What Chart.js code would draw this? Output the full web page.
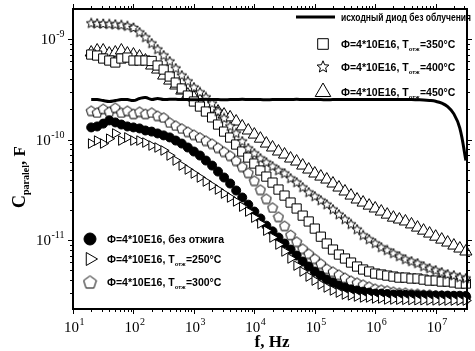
<!DOCTYPE html>
<html>
<head>
<meta charset="utf-8">
<script src="https://cdn.jsdelivr.net/npm/chart.js@4/dist/chart.umd.min.js"></script>
<style>
  html, body { margin: 0; padding: 0; background: #fff; }
</style>
</head>
<body>
<canvas id="chart" width="475" height="351"></canvas>
<script>
// frequency, Hz
const freq = [20, 25.1, 31.6, 39.8, 50.1, 63.1, 79.4,
  100, 126, 158, 200, 251, 316, 398, 501, 631, 794,
  1000, 1260, 1580, 2000, 2510, 3160, 3980, 5010, 6310, 7940,
  1e4, 1.26e4, 1.58e4, 2e4, 2.51e4, 3.16e4, 3.98e4, 5.01e4, 6.31e4, 7.94e4,
  1e5, 1.26e5, 1.58e5, 2e5, 2.51e5, 3.16e5, 3.98e5, 5.01e5, 6.31e5, 7.94e5,
  1e6, 1.26e6, 1.58e6, 2e6, 2.51e6, 3.16e6, 3.98e6, 5.01e6, 6.31e6, 7.94e6,
  1e7, 1.26e7, 1.58e7, 2e7, 2.51e7, 3.16e7];

// capacitance values in pF
const pristine = [250, 250, 244, 239, 244, 250, 250, 244, 256, 262, 250, 256, 250,
  252, 251, 250, 250, 249, 250, 251, 250, 250, 249,
  250, 250, 251, 250, 250, 250, 249, 250, 250, 250,
  250, 251, 250, 250, 250, 250, 249, 250, 250, 250,
  250, 250, 250, 250, 250, 250, 250, 250, 250, 250, 250, 249,
  248, 245, 240, 230, 212, 180, 130, 62];
const noAnneal = [132, 135, 144, 155, 148, 141, 135, 132, 129, 123, 120, 115, 110, 105, 97.7, 91.2, 83.3, 76.0, 69.3, 61.8,
  55.1, 48.0, 41.9, 36.5, 31.1, 26.5, 22.5, 19.2, 16.4, 13.9, 12.2, 10.6, 9.23, 8.04, 7.01, 6.11, 5.45, 4.86, 4.43, 4.04,
  3.78, 3.52, 3.37, 3.22, 3.15, 3.07, 3.00, 2.93, 2.93, 2.90, 2.87, 2.87, 2.85, 2.84, 2.83, 2.82, 2.81, 2.81, 2.80, 2.80,
  2.79, 2.79, 2.78];
const t250 = [91.2, 97.7, 91.2, 102, 115, 97.7, 105, 97.7, 97.7, 93.3, 87.1, 83.3, 77.8, 69.3, 61.8, 55.1, 50.3, 45.9, 41.9, 38.2,
  34.8, 31.8, 29.0, 26.5, 24.2, 21.5, 19.2, 16.7, 14.6, 12.4, 10.6, 9.02, 7.69, 6.55, 5.57, 4.86, 4.33, 3.95, 3.61, 3.37,
  3.15, 3.00, 2.87, 2.81, 2.74, 2.68, 2.68, 2.62, 2.62, 2.56, 2.56, 2.55, 2.54, 2.53, 2.52, 2.52, 2.51, 2.51, 2.50, 2.50,
  2.50, 2.50, 2.50];
const t300 = [194, 186, 203, 190, 208, 186, 194, 181, 190, 181, 186, 173, 166, 148, 138, 129, 120, 112, 105, 97.7,
  91.2, 83.3, 76.0, 69.3, 61.8, 53.9, 46.9, 39.1, 31.8, 25.9, 21.1, 17.1, 13.9, 11.3, 9.66, 8.23, 7.34, 6.55, 5.84, 5.20,
  4.86, 4.54, 4.23, 3.95, 3.78, 3.61, 3.45, 3.29, 3.22, 3.15, 3.07, 3.00, 3.00, 2.93, 2.93, 2.87, 2.87, 2.81, 2.81, 2.74,
  2.74, 2.68, 2.68];
const t350 = [701, 685, 640, 611, 584, 640, 654, 611, 611, 611, 605, 545, 497, 424, 369, 322, 274, 239, 213, 190,
  166, 141, 120, 104.7, 89.2, 76.0, 66.2, 57.7, 49.2, 42.8, 37.3, 31.8, 27.7, 23.6, 20.6, 17.5, 15.3, 13.0, 10.8, 9.23,
  8.04, 7.17, 6.55, 5.97, 5.45, 5.09, 4.86, 4.64, 4.54, 4.43, 4.33, 4.23, 4.23, 4.14, 4.14, 4.04, 3.95, 3.95, 3.86, 3.86,
  3.78, 3.69, 3.69];
const t400 = [1430, 1420, 1410, 1400, 1390, 1370, 1340, 1290, 1161, 1035, 902, 786, 685, 597, 509, 433, 378, 329, 294, 262,
  228, 190, 162, 135, 115, 95.5, 81.4, 72.6, 64.7, 59.0, 53.9, 49.1, 45.9, 40.9, 37.3, 33.3, 29.7, 27.1, 24.7, 22.5,
  20.1, 17.9, 16.0, 14.3, 12.7, 11.1, 10.1, 9.23, 8.42, 7.87, 7.34, 6.85, 6.40, 6.11, 5.84, 5.45, 5.20, 4.97, 4.75, 4.54,
  4.43, 4.23, 4.14];
const t450 = [734, 769, 769, 717, 734, 769, 717, 701, 670, 611, 545, 497, 433, 386, 345, 307, 280, 262, 244, 223,
  203, 190, 177, 166, 151, 135, 123, 112, 102, 91.2, 83.3, 76.0, 70.9, 64.7, 60.4, 55.1, 50.3, 45.9, 42.8, 40.0,
  36.5, 33.3, 30.4, 27.7, 25.3, 23.6, 22.0, 20.6, 19.2, 17.9, 16.7, 16.0, 15.3, 14.3, 13.3, 12.4, 11.6, 10.8, 10.1, 9.44,
  8.81, 8.23, 7.69];

const xTickExp = [1, 2, 3, 4, 5, 6, 7];
const yTickExp = [-11, -10, -9];

const X_MIN = 10, X_MAX = 3.3e7;
const Y_MIN = 2.06e-12, Y_MAX = 1.99e-9;

const pts = arr => arr.map((v, i) => ({ x: freq[i], y: v * 1e-12 }));

function shape(size, draw) {
  const c = document.createElement('canvas');
  c.width = size; c.height = size;
  const g = c.getContext('2d');
  g.lineWidth = 1; g.strokeStyle = '#000'; g.fillStyle = '#fff';
  g.beginPath();
  draw(g, size / 2, size / 2 - 0.8);
  g.closePath(); g.fill(); g.stroke();
  return c;
}
const starShape = size => shape(size, (g, c, r) => {
  for (let k = 0; k < 10; k++) {
    const a = -Math.PI / 2 + k * Math.PI / 5, rr = k % 2 ? r * 0.45 : r;
    g.lineTo(c + rr * Math.cos(a), c + rr * Math.sin(a));
  }
});
const pentShape = size => shape(size, (g, c, r) => {
  for (let k = 0; k < 5; k++) {
    const a = -Math.PI / 2 + k * 2 * Math.PI / 5;
    g.lineTo(c + r * Math.cos(a), c + 0.6 + r * Math.sin(a));
  }
});

const starPt = starShape(12), starLeg = starShape(14);
const pentPt = pentShape(12), pentLeg = pentShape(15);

const hollow = (data, style, radius, rotation) => ({
  data: pts(data), showLine: false, clip: false,
  pointStyle: style, pointRadius: radius, pointRotation: rotation || 0,
  pointBackgroundColor: '#fff', pointBorderColor: '#000', pointBorderWidth: 1
});

const legendTop = [
  { kind: 'line', y: 17, text: ['исходный диод без облучения'], max: 130 },
  { kind: 'pt', style: 'rect', r: 7.5, y: 44, text: ['Ф=4*10E16, T', 'отж', '=350°C'] },
  { kind: 'pt', style: starLeg, r: 6, y: 67, text: ['Ф=4*10E16, T', 'отж', '=400°C'] },
  { kind: 'pt', style: 'triangle', r: 9, y: 92, text: ['Ф=4*10E16, T', 'отж', '=450°C'] }
];
const legendBottom = [
  { kind: 'pt', style: 'circle', r: 6, fill: '#000', y: 239, text: ['Ф=4*10E16, без отжига'] },
  { kind: 'pt', style: 'triangle', r: 7.5, rot: 90, y: 259, text: ['Ф=4*10E16, T', 'отж', '=250°C'] },
  { kind: 'pt', style: pentLeg, r: 7, y: 282, text: ['Ф=4*10E16, T', 'отж', '=300°C'] }
];

function drawPow(ctx, exp, x, y, align) {
  ctx.font = '15px "Liberation Serif"';
  const wb = ctx.measureText('10').width;
  ctx.font = '10px "Liberation Serif"';
  const we = ctx.measureText(exp).width;
  const left = align === 'right' ? x - wb - we : x - (wb + we) / 2;
  ctx.textAlign = 'left';
  ctx.font = '15px "Liberation Serif"';
  ctx.fillText('10', left, y);
  ctx.font = '10px "Liberation Serif"';
  ctx.fillText(exp, left + wb + 0.5, y - 7);
}

function drawEntry(ctx, e, mx, tx) {
  ctx.save();
  if (e.kind === 'line') {
    ctx.strokeStyle = '#000'; ctx.lineWidth = 3;
    ctx.beginPath(); ctx.moveTo(mx - 27, e.y); ctx.lineTo(mx + 12, e.y); ctx.stroke();
  } else {
    ctx.fillStyle = e.fill || '#fff'; ctx.strokeStyle = '#000'; ctx.lineWidth = 1;
    Chart.helpers.drawPoint(ctx, { pointStyle: e.style, radius: e.r, rotation: e.rot || 0, borderWidth: 1 }, mx, e.y);
  }
  ctx.restore();
  ctx.fillStyle = '#000'; ctx.textAlign = 'left'; ctx.textBaseline = 'alphabetic';
  let x = tx;
  e.text.forEach((t, i) => {
    const sub = i === 1;
    ctx.font = sub ? 'bold 6px "Liberation Sans"' : 'bold 10.5px "Liberation Sans"';
    if (e.max) ctx.fillText(t, x, e.y + 4, e.max);
    else ctx.fillText(t, x, e.y + 4 + (sub ? 3 : 0));
    x += ctx.measureText(t).width + (sub ? 0.5 : 0);
  });
}

const decor = {
  id: 'decor',
  afterDraw(chart) {
    const { ctx, chartArea: a, scales: { x, y } } = chart;
    ctx.save();
    ctx.strokeStyle = '#000';
    ctx.lineWidth = 1;
    ctx.beginPath();
    for (let e = 1; e <= 7; e++) {
      for (let m = 1; m <= 9; m++) {
        const v = m * Math.pow(10, e);
        if (v > X_MAX) continue;
        const px = Math.round(x.getPixelForValue(v)) + 0.5, len = m === 1 ? 5 : 3;
        ctx.moveTo(px, a.bottom); ctx.lineTo(px, a.bottom + len);
        ctx.moveTo(px, a.top); ctx.lineTo(px, a.top - len);
      }
    }
    for (let e = -12; e <= -9; e++) {
      for (let m = 1; m <= 9; m++) {
        const v = m * Math.pow(10, e);
        if (v < Y_MIN || v > Y_MAX) continue;
        const py = Math.round(y.getPixelForValue(v)) + 0.5, len = m === 1 ? 5 : 3;
        ctx.moveTo(a.left, py); ctx.lineTo(a.left - len, py);
        ctx.moveTo(a.right, py); ctx.lineTo(a.right + len, py);
      }
    }
    ctx.stroke();
    ctx.lineWidth = 2;
    ctx.strokeRect(a.left, a.top, a.right - a.left, a.bottom - a.top);

    ctx.fillStyle = '#000';
    ctx.textBaseline = 'alphabetic';
    xTickExp.forEach(e => drawPow(ctx, String(e), x.getPixelForValue(Math.pow(10, e)) + 1, a.bottom + 23, 'center'));
    yTickExp.forEach(e => drawPow(ctx, String(e), a.left - 9, y.getPixelForValue(Math.pow(10, e)) + 5, 'right'));

    // axis titles
    ctx.font = 'bold 17px "Liberation Serif"';
    ctx.textAlign = 'center';
    ctx.fillText('f, Hz', 272, 347);

    ctx.save();
    ctx.translate(25, 177);
    ctx.rotate(-Math.PI / 2);
    const parts = [['C', 'bold 18px "Liberation Serif"', 0], ['paralel', 'bold 10px "Liberation Serif"', 4], [', F', 'bold 17px "Liberation Serif"', 0]];
    let w = 0;
    parts.forEach(p => { ctx.font = p[1]; w += ctx.measureText(p[0]).width; });
    let cx = -w / 2;
    ctx.textAlign = 'left';
    parts.forEach(p => { ctx.font = p[1]; ctx.fillText(p[0], cx, p[2]); cx += ctx.measureText(p[0]).width; });
    ctx.restore();

    legendTop.forEach(e => drawEntry(ctx, e, 323, 341));
    legendBottom.forEach(e => drawEntry(ctx, e, 90, 107));
    ctx.restore();
  }
};

new Chart(document.getElementById('chart'), {
  type: 'scatter',
  data: {
    datasets: [
      { data: pts(pristine), showLine: true, borderColor: '#000', borderWidth: 3, pointRadius: 0, tension: 0.4, clip: false },
      hollow(t250, 'triangle', 5.5, 90),
      { data: pts(noAnneal), showLine: false, clip: false, pointStyle: 'circle', pointRadius: 4.5,
        pointBackgroundColor: '#000', pointBorderColor: '#000', pointBorderWidth: 1 },
      hollow(t300, pentPt, 6),
      hollow(t400, starPt, 6),
      hollow(t350, 'rect', 6.5),
      hollow(t450, 'triangle', 7)
    ]
  },
  options: {
    responsive: false,
    animation: false,
    events: [],
    layout: { padding: { top: 9, right: 3, left: 0, bottom: 0 } },
    plugins: { legend: { display: false }, tooltip: { enabled: false } },
    scales: {
      x: {
        type: 'logarithmic', min: X_MIN, max: X_MAX,
        grid: { display: false }, border: { display: false }, ticks: { display: false },
        afterFit: s => { s.height = 42; }
      },
      y: {
        type: 'logarithmic', min: Y_MIN, max: Y_MAX,
        grid: { display: false }, border: { display: false }, ticks: { display: false },
        afterFit: s => { s.width = 73; }
      }
    }
  },
  plugins: [decor]
});
</script>
</body>
</html>
